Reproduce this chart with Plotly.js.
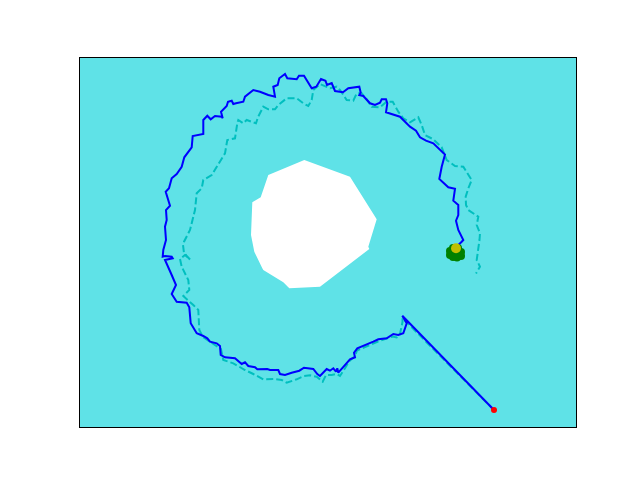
<!DOCTYPE html>
<html>
<head>
<meta charset="utf-8">
<script src="https://cdn.plot.ly/plotly-3.0.1.min.js"></script>
<style>
  body { margin: 0; background: white; }
  #plot { width: 640px; height: 480px; }
</style>
</head>
<body>
<div id="plot"></div>
<script>
  // obstacle outline
  var obstacleX = [224.3, 270, 296.7, 288.3, 289.3, 240, 209.3, 203.3, 183.3, 182.3, 174.3, 171, 172.3, 180.7, 188.3, 224.3];
  var obstacleY = [267, 250.3, 207.7, 180.3, 178, 140.3, 138.7, 144.7, 157, 158.7, 175.3, 192, 224.7, 229.7, 252, 267];

  // planned path (dashed)
  var planX = [414, 322.5, 322.5, 320, 316.7, 312.7, 305, 298, 285, 277, 275, 269, 265, 260, 256.7, 251.7, 246, 242.7,
    236.7, 230, 224, 216.7, 206.7, 201.7, 193.3, 183.3, 173.3, 165, 153.3, 143.3, 141, 135, 130, 123, 119.3, 119,
    118.3, 113.3, 103.3, 109.3, 108.3, 101.7, 100, 105, 110, 104, 103, 104, 110, 115, 116.7, 121.7, 123.3, 131.7,
    136.7, 145, 147.3, 155, 157.3, 158.3, 163.3, 166.7, 176, 178, 183.3, 188.3, 195, 198.3, 206.7, 216.7, 223.3,
    228.3, 231.7, 233.3, 240, 250, 256.7, 260, 266.7, 273.3, 276.7, 281.7, 286.7, 291.7, 300, 306.7, 312.7, 318.3,
    323.3, 330, 338.3, 341.7, 345, 353.3, 361.7, 366.7, 375, 383.3, 391.7, 388.3, 385.7, 386, 388.3, 398.3, 396.7,
    400, 399.5, 398, 396.7, 400, 396];
  var planY = [17, 109, 105, 93, 89.5, 90.5, 88, 85.5, 80, 76.5, 71, 65.5, 58.7, 51, 53, 52, 52, 45.3,
    50.3, 51.7, 51, 47.7, 44.3, 47, 48, 47.7, 53, 57, 63.7, 67, 78, 82, 86, 90, 97, 103.7,
    117, 122, 131, 137, 147, 160.3, 168, 172, 167.5, 174, 182, 185.3, 197, 217, 233.7, 238.7, 247, 252,
    260.3, 273.7, 287, 288.7, 303.7, 307, 303.7, 307, 303.7, 310, 320.3, 317.7, 317.7, 322, 328.7, 328.7, 323.7,
    321, 327, 337, 343, 338.7, 340.3, 337, 327, 326.3, 333.7, 333.7, 327.7, 320.3, 319.7, 325.3, 325.3, 315.3,
    308.7, 304.7, 309.7, 302, 292, 287.7, 279.7, 267, 261, 260.3, 247, 238.7, 230.3, 222, 217, 210.3, 202,
    193.7, 187, 174, 167, 160.3, 153.5];

  // driven path (solid)
  var pathX = [414, 322.3, 326.7, 323.3, 318.3, 313.3, 306.7, 301.7, 298.3, 293.3, 285, 277.3, 274, 275, 270, 265,
    258.3, 257.3, 256, 253.3, 250, 246.7, 240, 237.3, 233.3, 224, 219.3, 211.7, 205, 200, 198.3, 190, 187.3, 177.3,
    175, 168.3, 165, 161.7, 158.3, 155, 145, 140.7, 140, 136.7, 130, 127.3, 123.3, 116.7, 110.7, 109.3, 106.7, 96.7,
    91.7, 96, 91.7, 88.3, 85, 92.7, 91.7, 85, 82.7, 83.3, 86, 85, 86.7, 86, 90, 85.7, 89, 91.7, 96.7, 101.7, 104.3,
    111.7, 112.7, 123.3, 123.3, 127.3, 130.7, 135, 141.7, 142.7, 141, 146.7, 148, 151.7, 153.3, 156, 163.3, 165,
    171, 173.3, 180, 188.3, 195, 193.3, 197.7, 199.3, 205, 207.3, 216.7, 219, 224, 231.7, 236.3, 241, 245.5, 247,
    251.7, 255, 263, 268.3, 279.3, 280.7, 279.3, 283.3, 290, 295, 300, 301.7, 306, 307.3, 306, 320, 330, 336, 340,
    346, 353.3, 365, 361.7, 359.3, 368.3, 375, 373.3, 378.3, 378.3, 376, 378.3, 383.3, 381.7, 378.3];
  var pathY = [17, 111.3, 103.7, 93.7, 92, 93, 88.7, 88, 87.7, 85.3, 82, 78.7, 74.3, 69.7, 67.7, 62,
    54.3, 58.7, 55.3, 58.7, 56.3, 58, 51, 53, 58, 59.3, 56.3, 54.3, 52, 53, 57, 57, 58, 57.7,
    59.7, 61, 64.7, 63, 66.3, 68.7, 69.7, 72, 81, 83.7, 85.3, 88.7, 91, 93.7, 103.7, 119.7, 124.3, 125.3,
    133, 142, 152, 160.3, 167, 168.7, 170.3, 171, 170.3, 177, 187, 200.3, 207, 217, 221.3, 235.3, 238.7, 248.7, 253, 260.3, 269.7,
    279.7, 291, 293, 307, 311.3, 307.7, 311, 310.3, 308.7, 315.3, 321, 325.3, 326.3, 323, 323.7, 325.3, 330.3,
    335.3, 337, 335.3, 332, 330.3, 340.3, 342, 348.7, 353, 348.7, 347.7, 351.3, 351.3, 338.7, 340.3, 348, 346.3, 342,
    344, 336, 334.7, 338.7, 340.3, 334.3, 332, 331, 323.7, 322, 324.3, 327.7, 327.7, 323.7, 314.7, 310.3, 300.3, 296.3, 289.7,
    286.3, 283.7, 272.5, 260.3, 248, 239.7, 238.2, 226.3, 222, 212, 206.3, 197, 187, 185.3, 182];

  // robot footprint samples near the end of the run
  var robotX = [370, 370, 373, 377, 381, 381, 376, 373, 378, 372, 376];
  var robotY = [176, 172, 170, 169.5, 171, 175, 177, 179, 179, 174, 173];

  var goalX = [376];
  var goalY = [178.7];
  var startX = [414];
  var startY = [17];

  var traces = [
    {
      x: obstacleX, y: obstacleY, mode: 'lines', fill: 'toself',
      fillcolor: 'white', line: {width: 0, color: 'white'}
    },
    {
      x: planX, y: planY, mode: 'lines',
      line: {color: '#00bfbf', width: 2, dash: '7px,3px'}
    },
    {
      x: pathX, y: pathY, mode: 'lines',
      line: {color: '#0000ff', width: 2}
    },
    {
      x: robotX, y: robotY, mode: 'markers',
      marker: {color: '#008000', size: 8}
    },
    {
      x: goalX, y: goalY, mode: 'markers',
      marker: {color: '#bfbf00', size: 10}
    },
    {
      x: startX, y: startY, mode: 'markers',
      marker: {color: '#ff0000', size: 6}
    }
  ];

  var axisStyle = {
    showgrid: false,
    zeroline: false,
    showticklabels: false,
    ticks: '',
    showline: true,
    mirror: true,
    linecolor: 'black',
    linewidth: 1
  };

  var layout = {
    width: 640,
    height: 480,
    margin: {l: 80, r: 64, t: 58, b: 53},
    paper_bgcolor: 'white',
    plot_bgcolor: '#5fe2e7',
    showlegend: false,
    xaxis: Object.assign({range: [0, 496]}, axisStyle),
    yaxis: Object.assign({range: [0, 369]}, axisStyle)
  };

  Plotly.newPlot('plot', traces, layout, {displayModeBar: false, staticPlot: true});
</script>
</body>
</html>
